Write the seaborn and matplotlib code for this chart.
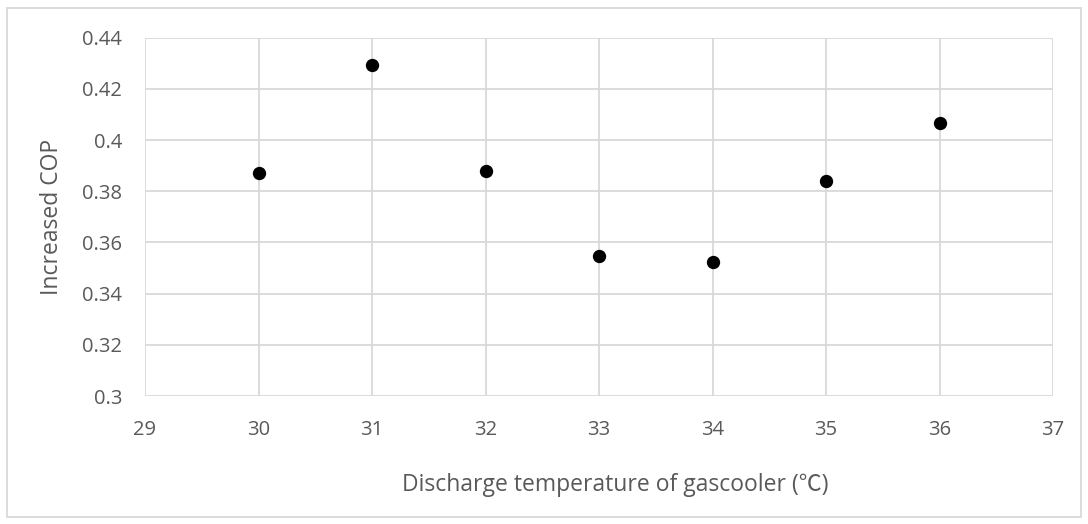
import matplotlib
matplotlib.use("Agg")
import matplotlib.pyplot as plt
from matplotlib.patches import Rectangle
import seaborn as sns
import pandas as pd

# Gas cooler discharge temperature (°C) and the resulting COP increase
temperature = [30, 31, 32, 33, 34, 35, 36]
increased_cop = [0.3872, 0.4293, 0.3880, 0.3547, 0.3522, 0.3841, 0.4068]

x_ticks = [29, 30, 31, 32, 33, 34, 35, 36, 37]
y_ticks = [0.30, 0.32, 0.34, 0.36, 0.38, 0.40, 0.42, 0.44]
y_tick_labels = ["0.3", "0.32", "0.34", "0.36", "0.38", "0.4", "0.42", "0.44"]

x_label = "Discharge temperature of gascooler (℃)"
y_label = "Increased COP"

sns.set_style("white")
plt.rcParams["font.family"] = ["Open Sans", "Noto Sans CJK SC", "DejaVu Sans"]

text_color = "#595959"
grid_color = "#D9D9D9"

df = pd.DataFrame({"temperature": temperature, "cop": increased_cop})

W, H = 1088, 524
fig = plt.figure(figsize=(W / 100, H / 100), dpi=100)
ax = fig.add_axes([145 / W, 1 - 396 / H, (1053 - 145) / W, (396 - 37.7) / H])

sns.scatterplot(data=df, x="temperature", y="cop", ax=ax, color="black",
                s=92, linewidth=0, zorder=3, legend=False)

ax.set_xlim(29, 37)
ax.set_ylim(0.30, 0.44)
ax.set_xticks(x_ticks)
ax.set_xticklabels([str(t) for t in x_ticks])
ax.set_yticks(y_ticks)
ax.set_yticklabels(y_tick_labels)

ax.grid(True, color=grid_color, linewidth=1.3)
ax.set_axisbelow(True)
for s in ax.spines.values():
    s.set_visible(False)

ax.tick_params(axis="both", length=0, labelsize=14.5, labelcolor=text_color)
ax.tick_params(axis="y", pad=16.5)
ax.tick_params(axis="x", pad=17)

ax.set_xlabel(x_label, fontsize=16.5, color=text_color)
ax.set_ylabel(y_label, fontsize=16.5, color=text_color)
ax.xaxis.label.set_va("center")
ax.xaxis.label.set_ha("left")
ax.xaxis.set_label_coords((402 - 145) / 908, (396 - 485) / 358.3)
ax.yaxis.label.set_va("center")
ax.yaxis.set_label_coords((52 - 145) / 908, 0.5)

# Chart-area frame
fig.add_artist(Rectangle((7 / W, 1 - 517 / H), (1081 - 7) / W, (517 - 7.5) / H,
                         transform=fig.transFigure, fill=False,
                         edgecolor=grid_color, linewidth=1.3))

fig.savefig("out.png", dpi=100)
